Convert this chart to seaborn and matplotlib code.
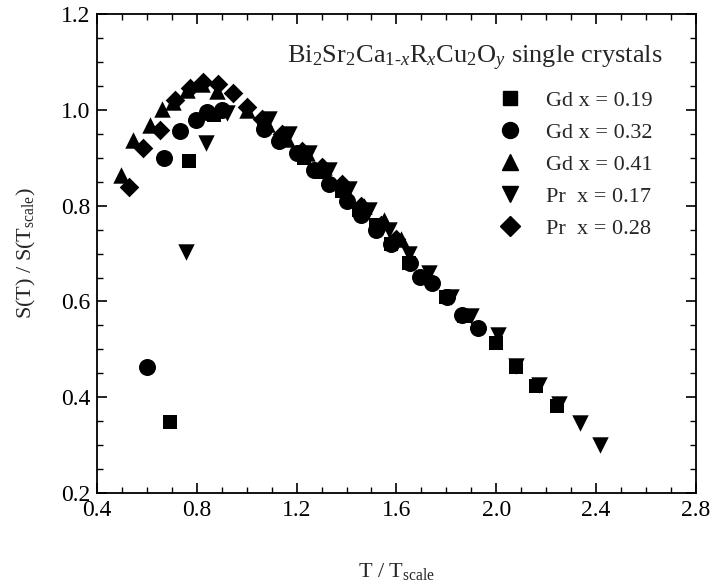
import numpy as np
import pandas as pd
import matplotlib
matplotlib.use("Agg")
import matplotlib.pyplot as plt
import seaborn as sns
from matplotlib.ticker import MultipleLocator
from matplotlib.lines import Line2D

# ---- data ----
labels = ["Gd x = 0.19", "Gd x = 0.32", "Gd x = 0.41", "Pr  x = 0.17", "Pr  x = 0.28"]
markers = ["s", "o", "^", "v", "D"]

gd019_x = [0.692, 0.770, 0.870, 1.07, 1.15, 1.23, 1.30, 1.38, 1.45, 1.52, 1.58, 1.65, 1.72, 1.80, 1.87, 2.001, 2.081, 2.161, 2.242]
gd019_y = [0.349, 0.893, 0.990, 0.970, 0.940, 0.900, 0.870, 0.830, 0.790, 0.760, 0.720, 0.680, 0.650, 0.610, 0.570, 0.513, 0.464, 0.423, 0.381]

gd032_x = [0.599, 0.668, 0.732, 0.797, 0.839, 0.90, 1.07, 1.13, 1.20, 1.27, 1.33, 1.40, 1.46, 1.52, 1.58, 1.654, 1.694, 1.741, 1.801, 1.861, 1.928]
gd032_y = [0.464, 0.900, 0.955, 0.979, 0.996, 1.000, 0.960, 0.935, 0.910, 0.875, 0.845, 0.810, 0.780, 0.750, 0.720, 0.680, 0.652, 0.638, 0.610, 0.572, 0.545]

gd041_x = [0.495, 0.545, 0.612, 0.659, 0.706, 0.759, 0.819, 0.880, 1.00, 1.08, 1.16, 1.24, 1.31, 1.39, 1.47, 1.55, 1.62]
gd041_y = [0.864, 0.937, 0.969, 1.001, 1.017, 1.041, 1.055, 1.040, 1.000, 0.970, 0.940, 0.910, 0.880, 0.840, 0.800, 0.770, 0.730]

pr017_x = [0.757, 0.837, 0.920, 1.09, 1.17, 1.25, 1.33, 1.41, 1.49, 1.57, 1.65, 1.73, 1.82, 1.90, 2.006, 2.081, 2.170, 2.250, 2.335, 2.415]
pr017_y = [0.704, 0.930, 0.993, 0.980, 0.950, 0.910, 0.875, 0.835, 0.790, 0.750, 0.700, 0.660, 0.610, 0.570, 0.530, 0.465, 0.425, 0.385, 0.346, 0.301]

pr028_x = [0.529, 0.585, 0.652, 0.712, 0.773, 0.825, 0.886, 0.946, 1.00, 1.06, 1.14, 1.22, 1.30, 1.38, 1.46, 1.54, 1.60]
pr028_y = [0.840, 0.920, 0.958, 1.021, 1.045, 1.059, 1.055, 1.035, 1.005, 0.980, 0.950, 0.915, 0.880, 0.845, 0.800, 0.760, 0.730]

series_x = [gd019_x, gd032_x, gd041_x, pr017_x, pr028_x]
series_y = [gd019_y, gd032_y, gd041_y, pr017_y, pr028_y]

frames = []
for lab, xs, ys in zip(labels, series_x, series_y):
    frames.append(pd.DataFrame({"T": xs, "S": ys, "sample": lab}))
df = pd.concat(frames, ignore_index=True)

# ---- style ----
sns.set_theme(style="ticks")
plt.rcParams["font.family"] = ["Liberation Serif", "DejaVu Serif"]
plt.rcParams["mathtext.fontset"] = "custom"
plt.rcParams["mathtext.rm"] = "Liberation Serif"
plt.rcParams["mathtext.it"] = "Liberation Serif:italic"
plt.rcParams["mathtext.bf"] = "Liberation Serif:bold"

fig = plt.figure(figsize=(7.13, 5.87), dpi=100)
ax = fig.add_axes([0.136, 0.160, 0.840, 0.816])

sizes = {"s": 110, "o": 150, "^": 140, "v": 140, "D": 100}
for lab, m in zip(labels, markers):
    sub = df[df["sample"] == lab]
    sns.scatterplot(data=sub, x="T", y="S", ax=ax, marker=m, color="black",
                    s=sizes[m], edgecolor="black", linewidth=0, legend=False, zorder=3)

ax.set_xlim(0.4, 2.8)
ax.set_ylim(0.2, 1.2)
ax.xaxis.set_major_locator(MultipleLocator(0.4))
ax.xaxis.set_minor_locator(MultipleLocator(0.1))
ax.yaxis.set_major_locator(MultipleLocator(0.2))
ax.yaxis.set_minor_locator(MultipleLocator(0.05))
ax.set_xticklabels([f"{v:.1f}" for v in ax.get_xticks()])
ax.set_yticklabels([f"{v:.1f}" for v in ax.get_yticks()])
ax.tick_params(which="both", direction="in", top=True, right=True, labelsize=17, colors="black")
ax.tick_params(which="major", length=7, width=1.2, pad=5)
ax.tick_params(which="minor", length=4, width=1.0)
for sp in ax.spines.values():
    sp.set_linewidth(1.3)
    sp.set_color("black")

ax.set_xlabel(r"T / T$_{\mathrm{scale}}$", fontsize=16, labelpad=29)
ax.set_ylabel(r"S(T) / S(T$_{\mathrm{scale}}$)", fontsize=16, labelpad=16)

ax.text(0.63, 0.908, r"Bi$_2$Sr$_2$Ca$_{1\text{-}x}$R$_x$Cu$_2$O$_y$ single crystals",
        transform=ax.transAxes, ha="center", va="center", fontsize=19)

handles = [Line2D([0], [0], marker=m, color="black", linestyle="none",
                  markersize=(10.5 if m in ("s", "D") else 11.5)) for m in markers]
ax.legend(handles, labels, loc="upper left", bbox_to_anchor=(0.653, 0.86),
          frameon=False, fontsize=16, handletextpad=1.0, labelspacing=0.52,
          handlelength=1.2, borderaxespad=0)

fig.savefig("out.png", dpi=100)
